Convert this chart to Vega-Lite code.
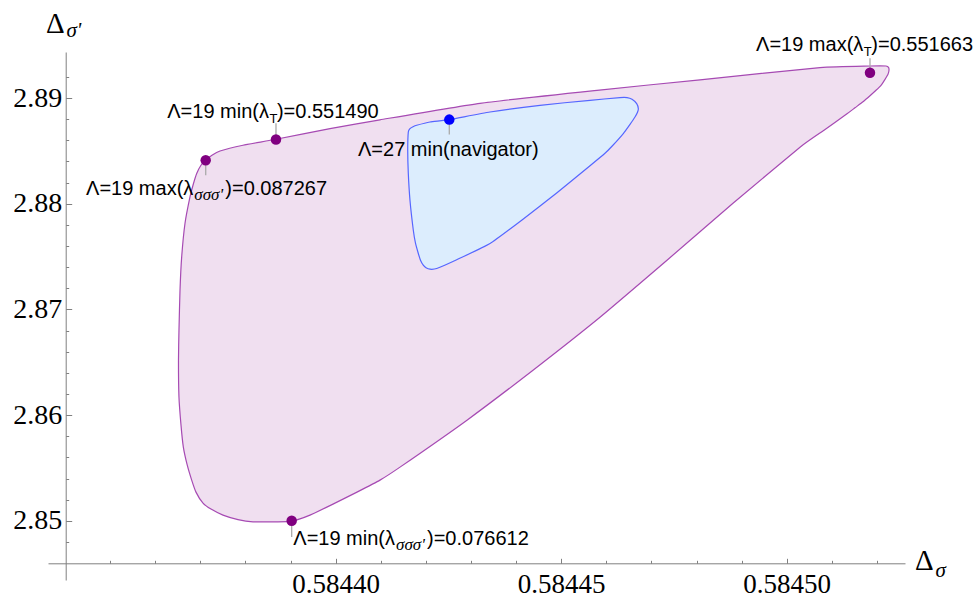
{
  "$schema": "https://vega.github.io/schema/vega-lite/v6.json",
  "autosize": {"type": "none"},
  "padding": {"left": 48, "top": 52, "right": 74, "bottom": 17},
  "width": 857,
  "height": 528,
  "background": "white",
  "config": {"view": {"stroke": null}},
  "datasets": {
    "outer": [
      {"i": 1, "x": 0.58437118, "y": 2.884109},
      {"i": 2, "x": 0.58437257, "y": 2.884582},
      {"i": 3, "x": 0.58437435, "y": 2.884988},
      {"i": 4, "x": 0.58437945, "y": 2.885527},
      {"i": 5, "x": 0.58438676, "y": 2.886095},
      {"i": 6, "x": 0.58439874, "y": 2.887106},
      {"i": 7, "x": 0.58440982, "y": 2.887939},
      {"i": 8, "x": 0.58443200, "y": 2.889499},
      {"i": 9, "x": 0.58445794, "y": 2.890728},
      {"i": 10, "x": 0.58448078, "y": 2.891721},
      {"i": 11, "x": 0.58450738, "y": 2.892875},
      {"i": 12, "x": 0.58451847, "y": 2.893026},
      {"i": 13, "x": 0.58452069, "y": 2.893045},
      {"i": 14, "x": 0.58452202, "y": 2.893026},
      {"i": 15, "x": 0.58452257, "y": 2.892903},
      {"i": 16, "x": 0.58452268, "y": 2.892619},
      {"i": 17, "x": 0.58452246, "y": 2.892241},
      {"i": 18, "x": 0.58452180, "y": 2.891768},
      {"i": 19, "x": 0.58452091, "y": 2.891201},
      {"i": 20, "x": 0.58451980, "y": 2.890728},
      {"i": 21, "x": 0.58451847, "y": 2.890208},
      {"i": 22, "x": 0.58451692, "y": 2.889641},
      {"i": 23, "x": 0.58451514, "y": 2.889073},
      {"i": 24, "x": 0.58451337, "y": 2.888506},
      {"i": 25, "x": 0.58450827, "y": 2.886946},
      {"i": 26, "x": 0.58450295, "y": 2.885338},
      {"i": 27, "x": 0.58448809, "y": 2.880043},
      {"i": 28, "x": 0.58447346, "y": 2.874652},
      {"i": 29, "x": 0.58445860, "y": 2.869262},
      {"i": 30, "x": 0.58444375, "y": 2.864251},
      {"i": 31, "x": 0.58442911, "y": 2.859522},
      {"i": 32, "x": 0.58441426, "y": 2.855078},
      {"i": 33, "x": 0.58440982, "y": 2.853849},
      {"i": 34, "x": 0.58440472, "y": 2.852714},
      {"i": 35, "x": 0.58439940, "y": 2.851579},
      {"i": 36, "x": 0.58439430, "y": 2.850539},
      {"i": 37, "x": 0.58439031, "y": 2.849972},
      {"i": 38, "x": 0.58438692, "y": 2.849905},
      {"i": 39, "x": 0.58438166, "y": 2.849905},
      {"i": 40, "x": 0.58437834, "y": 2.850113},
      {"i": 41, "x": 0.58437501, "y": 2.850539},
      {"i": 42, "x": 0.58437235, "y": 2.851106},
      {"i": 43, "x": 0.58437058, "y": 2.851674},
      {"i": 44, "x": 0.58436902, "y": 2.852714},
      {"i": 45, "x": 0.58436807, "y": 2.853849},
      {"i": 46, "x": 0.58436703, "y": 2.855362},
      {"i": 47, "x": 0.58436621, "y": 2.856998},
      {"i": 48, "x": 0.58436570, "y": 2.859050},
      {"i": 49, "x": 0.58436525, "y": 2.861697},
      {"i": 50, "x": 0.58436514, "y": 2.865196},
      {"i": 51, "x": 0.58436525, "y": 2.868033},
      {"i": 52, "x": 0.58436548, "y": 2.871816},
      {"i": 53, "x": 0.58436585, "y": 2.874965},
      {"i": 54, "x": 0.58436659, "y": 2.878151},
      {"i": 55, "x": 0.58436769, "y": 2.880638},
      {"i": 56, "x": 0.58436836, "y": 2.881745},
      {"i": 57, "x": 0.58436918, "y": 2.882851},
      {"i": 58, "x": 0.58437013, "y": 2.883636}
    ],
    "inner": [
      {"i": 1, "x": 0.58441597, "y": 2.885054},
      {"i": 2, "x": 0.58441610, "y": 2.886785},
      {"i": 3, "x": 0.58441647, "y": 2.887106},
      {"i": 4, "x": 0.58441714, "y": 2.887277},
      {"i": 5, "x": 0.58441796, "y": 2.887418},
      {"i": 6, "x": 0.58442091, "y": 2.887730},
      {"i": 7, "x": 0.58442519, "y": 2.887957},
      {"i": 8, "x": 0.58443421, "y": 2.888676},
      {"i": 9, "x": 0.58444530, "y": 2.889310},
      {"i": 10, "x": 0.58445639, "y": 2.889783},
      {"i": 11, "x": 0.58446304, "y": 2.890038},
      {"i": 12, "x": 0.58446459, "y": 2.890038},
      {"i": 13, "x": 0.58446570, "y": 2.889877},
      {"i": 14, "x": 0.58446674, "y": 2.889470},
      {"i": 15, "x": 0.58446710, "y": 2.888998},
      {"i": 16, "x": 0.58446692, "y": 2.888648},
      {"i": 17, "x": 0.58446636, "y": 2.888203},
      {"i": 18, "x": 0.58446526, "y": 2.887513},
      {"i": 19, "x": 0.58446377, "y": 2.886634},
      {"i": 20, "x": 0.58446126, "y": 2.885433},
      {"i": 21, "x": 0.58445971, "y": 2.884771},
      {"i": 22, "x": 0.58445639, "y": 2.883589},
      {"i": 23, "x": 0.58444907, "y": 2.881035},
      {"i": 24, "x": 0.58444153, "y": 2.878530},
      {"i": 25, "x": 0.58443421, "y": 2.876232},
      {"i": 26, "x": 0.58442683, "y": 2.874700},
      {"i": 27, "x": 0.58442240, "y": 2.873868},
      {"i": 28, "x": 0.58442091, "y": 2.873801},
      {"i": 29, "x": 0.58442002, "y": 2.873943},
      {"i": 30, "x": 0.58441942, "y": 2.874180},
      {"i": 31, "x": 0.58441880, "y": 2.874652},
      {"i": 32, "x": 0.58441832, "y": 2.875286},
      {"i": 33, "x": 0.58441769, "y": 2.876260},
      {"i": 34, "x": 0.58441721, "y": 2.877489},
      {"i": 35, "x": 0.58441647, "y": 2.880326},
      {"i": 36, "x": 0.58441610, "y": 2.882851}
    ],
    "pts": [
      {"x": 0.58437118, "y": 2.884109, "y2": 2.882690, "g": "L19"},
      {"x": 0.58438676, "y": 2.886076, "y2": 2.887608, "g": "L19"},
      {"x": 0.58451847, "y": 2.892383, "y2": 2.893754, "g": "L19"},
      {"x": 0.58439024, "y": 2.850000, "y2": 2.848458, "g": "L19"},
      {"x": 0.58442519, "y": 2.887957, "y2": 2.886539, "g": "L27"}
    ],
    "labels": [
      {"x": 0.58438520, "y": 2.888080, "pre": "Λ=19 min(λ", "sub": "T", "post": ")=0.551490", "kind": "T"},
      {"x": 0.58451699, "y": 2.894416, "pre": "Λ=19 max(λ", "sub": "T", "post": ")=0.551663", "kind": "T"},
      {"x": 0.58436843, "y": 2.880799, "pre": "Λ=19 max(λ", "sub": "σσσ'", "post": ")=0.087267", "kind": "S"},
      {"x": 0.58441315, "y": 2.847702, "pre": "Λ=19 min(λ", "sub": "σσσ'", "post": ")=0.076612", "kind": "S"},
      {"x": 0.58440494, "y": 2.884487, "pre": "", "sub": "", "post": "Λ=27 min(navigator)", "kind": "N"}
    ],
    "titles": [
      {"x": 0.58452845, "y": 2.845338, "t": "Δ", "kind": "D"},
      {"x": 0.58453300, "y": 2.844676, "t": "σ", "kind": "s"},
      {"x": 0.58433577, "y": 2.896118, "t": "Δ", "kind": "D"},
      {"x": 0.58434030, "y": 2.895740, "t": "σ'", "kind": "s"}
    ]
  },
  "encoding": {
    "x": {
      "field": "x", "type": "quantitative",
      "scale": {"domain": [0.58433621, 0.58452623], "nice": false, "zero": false},
      "axis": {
        "orient": "bottom", "offset": -16.7, "title": null, "grid": false,
        "values": [0.58435, 0.58436, 0.58437, 0.58438, 0.58439, 0.5844, 0.58441, 0.58442, 0.58443, 0.58444, 0.58445, 0.58446, 0.58447, 0.58448, 0.58449, 0.5845, 0.58451, 0.58452],
        "labelExpr": "datum.value > 0.584355 && abs(datum.value*20000 - round(datum.value*20000)) < 0.001 ? format(datum.value, '.5f') : ''",
        "tickSize": {"condition": {"test": "datum.value > 0.584355 && abs(datum.value*20000 - round(datum.value*20000)) < 0.001", "value": -5}, "value": -3},
        "labelPadding": 12.7, "labelBaseline": "top", "labelAlign": "center",
        "labelFont": "Liberation Serif", "labelFontSize": 27, "labelColor": "#000000",
        "labelFlush": false, "labelOverlap": false, "labelBound": false,
        "domainColor": "#808080", "tickColor": "#808080", "domainWidth": 1, "tickWidth": 1
      }
    },
    "y": {
      "field": "y", "type": "quantitative",
      "scale": {"domain": [2.844399, 2.894352], "nice": false, "zero": false},
      "axis": {
        "orient": "left", "offset": -17.7, "title": null, "grid": false,
        "values": [2.848, 2.85, 2.852, 2.854, 2.856, 2.858, 2.86, 2.862, 2.864, 2.866, 2.868, 2.87, 2.872, 2.874, 2.876, 2.878, 2.88, 2.882, 2.884, 2.886, 2.888, 2.89, 2.892],
        "labelExpr": "abs(datum.value*100 - round(datum.value*100)) < 0.01 ? format(datum.value, '.2f') : ''",
        "tickSize": {"condition": {"test": "abs(datum.value*100 - round(datum.value*100)) < 0.01", "value": -6}, "value": -3},
        "labelPadding": 10, "labelBaseline": "middle", "labelAlign": "right",
        "labelFont": "Liberation Serif", "labelFontSize": 28, "labelColor": "#000000",
        "labelFlush": false, "labelOverlap": false, "labelBound": false,
        "domainColor": "#808080", "tickColor": "#808080", "domainWidth": 1, "tickWidth": 1
      }
    }
  },
  "layer": [
    {
      "data": {"name": "outer"},
      "mark": {"type": "line", "interpolate": "cardinal-closed", "tension": 0.5, "fill": "#f0dff0", "stroke": "#a64ab3", "strokeWidth": 1.2, "strokeJoin": "round"},
      "encoding": {"order": {"field": "i", "type": "quantitative"}}
    },
    {
      "data": {"name": "inner"},
      "mark": {"type": "line", "interpolate": "cardinal-closed", "tension": 0.5, "fill": "#dcedfd", "stroke": "#5566ff", "strokeWidth": 1.2, "strokeJoin": "round"},
      "encoding": {"order": {"field": "i", "type": "quantitative"}}
    },
    {
      "data": {"name": "pts"},
      "mark": {"type": "rule", "color": "#aaaaaa", "strokeWidth": 1.3},
      "encoding": {"y2": {"field": "y2"}}
    },
    {
      "data": {"name": "pts"},
      "mark": {"type": "point", "filled": true, "opacity": 1, "size": 110},
      "encoding": {
        "color": {"field": "g", "type": "nominal", "scale": {"domain": ["L19", "L27"], "range": ["#800080", "#0000ff"]}, "legend": null}
      }
    },
    {
      "data": {"name": "labels"},
      "mark": {"type": "text", "align": "right", "baseline": "alphabetic", "font": "Liberation Sans", "fontSize": 20, "color": "#000000"},
      "encoding": {"text": {"field": "pre"}}
    },
    {
      "data": {"name": "labels"},
      "transform": [{"filter": "datum.kind == 'T'"}],
      "mark": {"type": "text", "align": "left", "baseline": "alphabetic", "font": "Liberation Sans", "fontSize": 13, "dx": 0.5, "dy": 5, "color": "#000000"},
      "encoding": {"text": {"field": "sub"}}
    },
    {
      "data": {"name": "labels"},
      "transform": [{"filter": "datum.kind == 'S'"}],
      "mark": {"type": "text", "align": "left", "baseline": "alphabetic", "font": "Liberation Serif", "fontStyle": "italic", "fontSize": 17, "dx": 1, "dy": 5, "color": "#000000"},
      "encoding": {"text": {"field": "sub"}}
    },
    {
      "data": {"name": "labels"},
      "transform": [{"filter": "datum.kind == 'T'"}],
      "mark": {"type": "text", "align": "left", "baseline": "alphabetic", "font": "Liberation Sans", "fontSize": 20, "dx": 8, "color": "#000000"},
      "encoding": {"text": {"field": "post"}}
    },
    {
      "data": {"name": "labels"},
      "transform": [{"filter": "datum.kind == 'S'"}],
      "mark": {"type": "text", "align": "left", "baseline": "alphabetic", "font": "Liberation Sans", "fontSize": 20, "dx": 32, "color": "#000000"},
      "encoding": {"text": {"field": "post"}}
    },
    {
      "data": {"name": "labels"},
      "transform": [{"filter": "datum.kind == 'N'"}],
      "mark": {"type": "text", "align": "left", "baseline": "alphabetic", "font": "Liberation Sans", "fontSize": 20, "color": "#000000"},
      "encoding": {"text": {"field": "post"}}
    },
    {
      "data": {"name": "titles"},
      "transform": [{"filter": "datum.kind == 'D'"}],
      "mark": {"type": "text", "align": "left", "baseline": "alphabetic", "font": "Liberation Serif", "fontSize": 29, "color": "#000000"},
      "encoding": {"text": {"field": "t"}}
    },
    {
      "data": {"name": "titles"},
      "transform": [{"filter": "datum.kind == 's'"}],
      "mark": {"type": "text", "align": "left", "baseline": "alphabetic", "font": "Liberation Serif", "fontStyle": "italic", "fontSize": 21, "color": "#000000"},
      "encoding": {"text": {"field": "t"}}
    }
  ]
}
